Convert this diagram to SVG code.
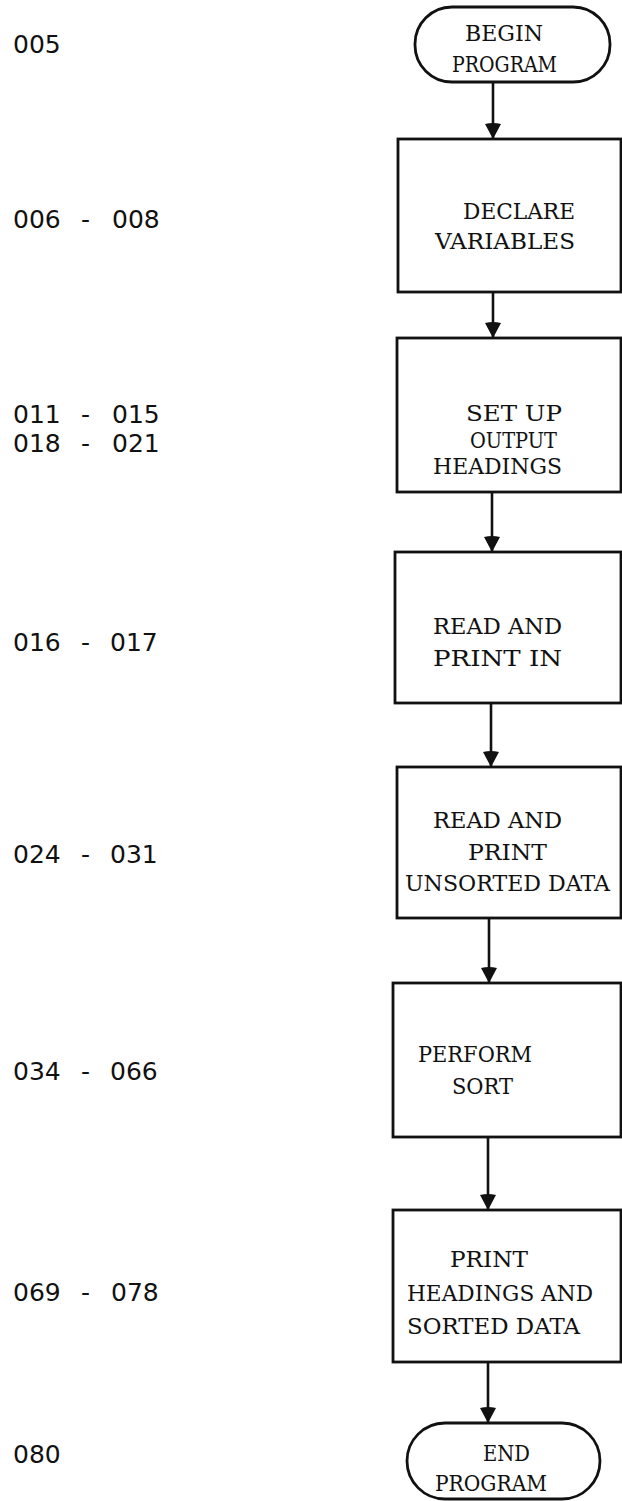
<svg xmlns="http://www.w3.org/2000/svg" width="622" height="1501" viewBox="0 0 622 1501">
<style>
.box{fill:#fff;stroke:#111;stroke-width:2.8}
.t{font-family:"DejaVu Serif","Liberation Serif",serif;font-size:23px;fill:#111}
.lbl{font-family:"DejaVu Sans","Liberation Sans",sans-serif;font-size:25px;fill:#111}
.c{stroke:#111;stroke-width:2.6;fill:none}
</style>
<defs>
<marker id="ah" markerUnits="userSpaceOnUse" markerWidth="18" markerHeight="18" viewBox="0 0 18 18" refX="17" refY="9" orient="auto">
<path d="M2,1 Q0,9 2,17 L17,9 Z" fill="#111"/>
</marker>
</defs>
<rect width="622" height="1501" fill="#fff"/>
<g id="labels">
<text class="lbl" x="13" y="53">005</text>
<text class="lbl" y="228"><tspan x="13">006 </tspan><tspan x="81">- </tspan><tspan x="112">008</tspan></text>
<text class="lbl" y="423"><tspan x="13">011 </tspan><tspan x="81">- </tspan><tspan x="112">015</tspan></text>
<text class="lbl" y="452"><tspan x="13">018 </tspan><tspan x="81">- </tspan><tspan x="112">021</tspan></text>
<text class="lbl" y="651"><tspan x="13">016 </tspan><tspan x="81">- </tspan><tspan x="110">017</tspan></text>
<text class="lbl" y="863"><tspan x="13">024 </tspan><tspan x="81">- </tspan><tspan x="110">031</tspan></text>
<text class="lbl" y="1080"><tspan x="13">034 </tspan><tspan x="81">- </tspan><tspan x="110">066</tspan></text>
<text class="lbl" y="1301"><tspan x="13">069 </tspan><tspan x="81">- </tspan><tspan x="111">078</tspan></text>
<text class="lbl" x="13" y="1463">080</text>
</g>
<g id="connectors">
<line class="c" x1="493" y1="82" x2="493" y2="139" marker-end="url(#ah)"/>
<line class="c" x1="493" y1="292" x2="493" y2="338" marker-end="url(#ah)"/>
<line class="c" x1="492" y1="492" x2="492" y2="552" marker-end="url(#ah)"/>
<line class="c" x1="491" y1="703" x2="491" y2="767" marker-end="url(#ah)"/>
<line class="c" x1="489" y1="918" x2="489" y2="983" marker-end="url(#ah)"/>
<line class="c" x1="488" y1="1137" x2="488" y2="1210" marker-end="url(#ah)"/>
<line class="c" x1="488" y1="1362" x2="488" y2="1423" marker-end="url(#ah)"/>
</g>
<g id="begin">
<rect class="box" x="415" y="7" width="195" height="75" rx="37" ry="37"/>
<text class="t" x="465" y="41" textLength="78" lengthAdjust="spacingAndGlyphs">BEGIN</text>
<text class="t" x="452" y="72" textLength="105" lengthAdjust="spacingAndGlyphs">PROGRAM</text>
</g>
<g id="declare">
<rect class="box" x="398" y="139" width="223" height="153"/>
<text class="t" x="463" y="219" textLength="112" lengthAdjust="spacingAndGlyphs">DECLARE</text>
<text class="t" x="435" y="249" textLength="140" lengthAdjust="spacingAndGlyphs">VARIABLES</text>
</g>
<g id="setup">
<rect class="box" x="397" y="338" width="224" height="154"/>
<text class="t" x="466" y="421" textLength="96" lengthAdjust="spacingAndGlyphs">SET UP</text>
<text class="t" x="470" y="448" textLength="87" lengthAdjust="spacingAndGlyphs">OUTPUT</text>
<text class="t" x="433" y="474" textLength="129" lengthAdjust="spacingAndGlyphs">HEADINGS</text>
</g>
<g id="readin">
<rect class="box" x="395" y="552" width="226" height="151"/>
<text class="t" x="433" y="634" textLength="129" lengthAdjust="spacingAndGlyphs">READ AND</text>
<text class="t" x="433" y="666" textLength="129" lengthAdjust="spacingAndGlyphs">PRINT IN</text>
</g>
<g id="readunsorted">
<rect class="box" x="397" y="767" width="224" height="151"/>
<text class="t" x="433" y="828" textLength="129" lengthAdjust="spacingAndGlyphs">READ AND</text>
<text class="t" x="468" y="860" textLength="79" lengthAdjust="spacingAndGlyphs">PRINT</text>
<text class="t" x="405" y="891" textLength="205" lengthAdjust="spacingAndGlyphs">UNSORTED DATA</text>
</g>
<g id="sort">
<rect class="box" x="393" y="983" width="228" height="154"/>
<text class="t" x="418" y="1062" textLength="114" lengthAdjust="spacingAndGlyphs">PERFORM</text>
<text class="t" x="452" y="1094" textLength="61" lengthAdjust="spacingAndGlyphs">SORT</text>
</g>
<g id="printsorted">
<rect class="box" x="393" y="1210" width="228" height="152"/>
<text class="t" x="450" y="1267" textLength="78" lengthAdjust="spacingAndGlyphs">PRINT</text>
<text class="t" x="407" y="1301" textLength="186" lengthAdjust="spacingAndGlyphs">HEADINGS AND</text>
<text class="t" x="407" y="1334" textLength="173" lengthAdjust="spacingAndGlyphs">SORTED DATA</text>
</g>
<g id="end">
<rect class="box" x="407" y="1423" width="193" height="76" rx="38" ry="38"/>
<text class="t" x="483" y="1461" textLength="47" lengthAdjust="spacingAndGlyphs">END</text>
<text class="t" x="435" y="1491" textLength="112" lengthAdjust="spacingAndGlyphs">PROGRAM</text>
</g>
</svg>
